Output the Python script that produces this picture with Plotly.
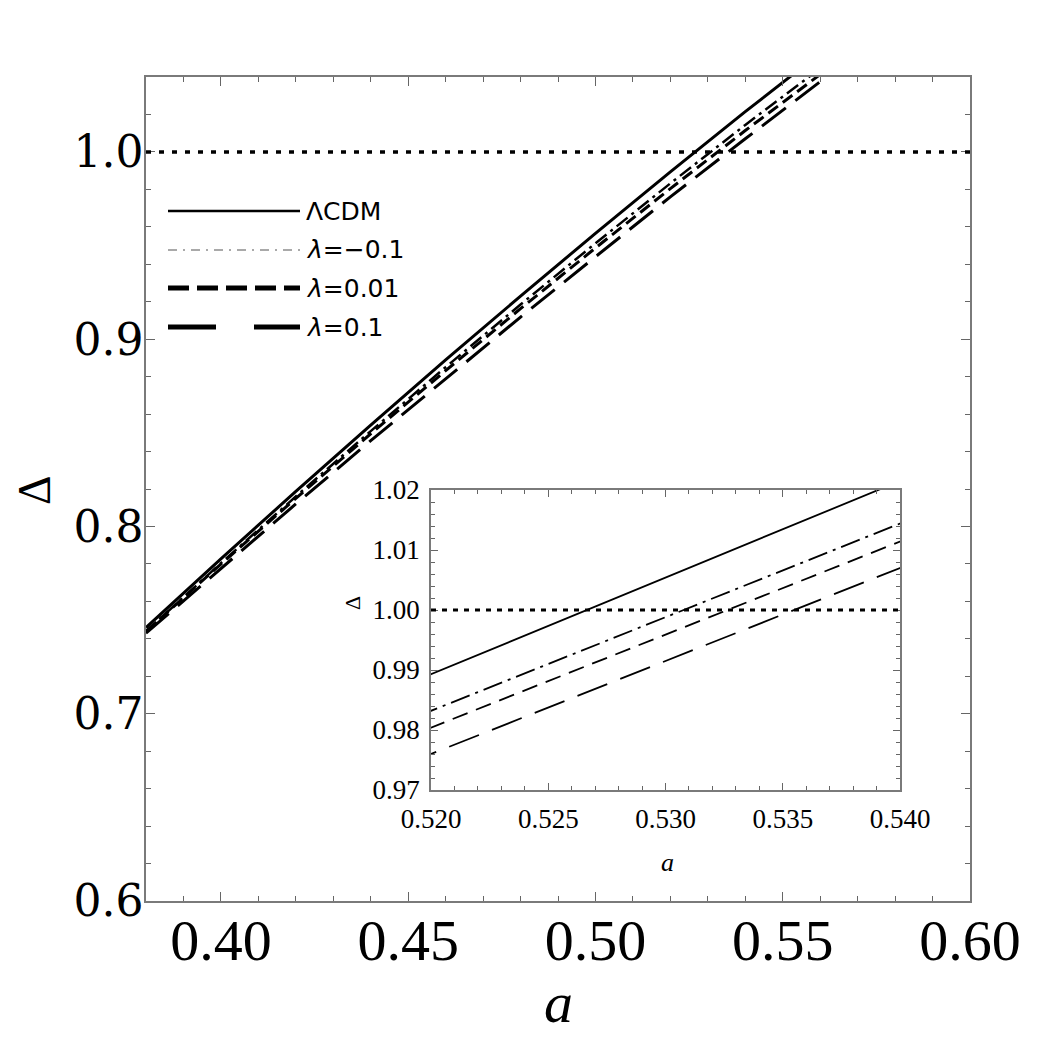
import plotly.graph_objects as go

# ---------------- data ----------------
a_vals = [0.38, 0.40, 0.42, 0.44, 0.46, 0.48, 0.50, 0.52, 0.54, 0.56, 0.58]
delta_lcdm = [0.746, 0.7827, 0.8187, 0.8541, 0.8889, 0.9230, 0.9565, 0.9893, 1.0215, 1.0530, 1.0839]
delta_lam_m01 = [0.744, 0.7804, 0.8160, 0.8509, 0.8851, 0.9185, 0.9512, 0.9832, 1.0144, 1.0449, 1.0747]
delta_lam_001 = [0.744, 0.7799, 0.8150, 0.8495, 0.8832, 0.9163, 0.9487, 0.9804, 1.0114, 1.0417, 1.0713]
delta_lam_01 = [0.743, 0.7777, 0.8120, 0.8458, 0.8790, 0.9118, 0.9440, 0.9760, 1.0070, 1.0377, 1.0680]
threshold = 1.0

series_names = ["ΛCDM", "<i>λ</i>=−0.1", "<i>λ</i>=0.01", "<i>λ</i>=0.1"]
series_vals = [delta_lcdm, delta_lam_m01, delta_lam_001, delta_lam_01]

main_range_x = [0.38, 0.60]
main_range_y = [0.60, 1.04]
inset_range_x = [0.52, 0.54]
inset_range_y = [0.97, 1.02]

# ---------------- styles ----------------
main_styles = [
    dict(width=3, dash="solid"),
    dict(width=2.5, dash="14px,5px,3px,5px"),
    dict(width=3, dash="12px,6px"),
    dict(width=3, dash="30px,12px"),
]
inset_styles = [
    dict(width=1.8, dash="solid"),
    dict(width=1.8, dash="20px,6px,3px,6px"),
    dict(width=1.8, dash="16px,9px"),
    dict(width=1.8, dash="32px,14px"),
]
legend_styles = [
    dict(width=2.5, dash="solid", color="black"),
    dict(width=1.2, dash="9px,6px,2px,6px", color="#555"),
    dict(width=5, dash="21px,8px", color="black"),
    dict(width=5, dash="48px,38px", color="black"),
]

fig = go.Figure()
for v, ms in zip(series_vals, main_styles):
    fig.add_trace(go.Scatter(x=a_vals, y=v, mode="lines", showlegend=False,
                             line=dict(color="black", **ms), xaxis="x", yaxis="y"))
for v, st in zip(series_vals, inset_styles):
    fig.add_trace(go.Scatter(x=a_vals, y=v, mode="lines", showlegend=False,
                             line=dict(color="black", **st), xaxis="x2", yaxis="y2"))

W, H = 1050, 1048
L, R, T, B = 146, 80, 77, 147
PW, PH = W - L - R, H - T - B


def px_x(p):
    return (p - L) / PW


def px_y(p):
    return (T + PH - p) / PH


frame = dict(showline=True, linecolor="#7a7a7a", linewidth=1.5, mirror="allticks",
             ticks="inside", tickcolor="#666", tickwidth=1.2, showgrid=False, zeroline=False)

fig.update_layout(
    width=W, height=H,
    margin=dict(l=L, r=R, t=T, b=B),
    paper_bgcolor="white", plot_bgcolor="white",
    xaxis=dict(domain=[0, 1], range=main_range_x, tick0=0.40, dtick=0.05, tickformat=".2f",
               ticklen=9, ticklabelstandoff=-12,
               tickfont=dict(family="Liberation Serif", size=58, color="black"),
               minor=dict(dtick=0.01, tick0=0.38, ticks="inside", ticklen=5, tickcolor="#666"),
               anchor="y", **frame),
    yaxis=dict(domain=[0, 1], range=main_range_y, tick0=0.6, dtick=0.1, tickformat=".1f",
               ticklen=9, ticklabelstandoff=-8,
               tickfont=dict(family="DejaVu Serif", size=44, color="black"),
               minor=dict(dtick=0.02, tick0=0.6, ticks="inside", ticklen=5, tickcolor="#666"),
               anchor="x", **frame),
    xaxis2=dict(domain=[px_x(431), px_x(900)], range=inset_range_x, tick0=0.52, dtick=0.005,
                tickformat=".3f", ticklen=7, ticklabelstandoff=4,
                tickfont=dict(family="Liberation Serif", size=27, color="black"),
                minor=dict(dtick=0.001, tick0=0.52, ticks="inside", ticklen=4, tickcolor="#666"),
                anchor="y2", **frame),
    yaxis2=dict(domain=[px_y(790), px_y(490)], range=inset_range_y, tick0=0.97, dtick=0.01,
                tickformat=".2f", ticklen=7, ticklabelstandoff=4,
                tickfont=dict(family="Liberation Serif", size=27, color="black"),
                minor=dict(dtick=0.002, tick0=0.97, ticks="inside", ticklen=4, tickcolor="#666"),
                anchor="x2", **frame),
)

shapes = [
    dict(type="line", xref="x domain", yref="y", x0=0, x1=1, y0=threshold, y1=threshold,
         line=dict(color="black", width=3.5, dash="5px,8px")),
    dict(type="line", xref="x2 domain", yref="y2", x0=0, x1=1, y0=threshold, y1=threshold,
         line=dict(color="black", width=3, dash="5px,6px")),
]
annotations = []
legend_rows = [211, 250, 288, 327]
for name, ls, row in zip(series_names, legend_styles, legend_rows):
    shapes.append(dict(type="line", xref="paper", yref="paper",
                       x0=px_x(168), x1=px_x(300), y0=px_y(row), y1=px_y(row), line=ls))
    annotations.append(dict(xref="paper", yref="paper", x=px_x(304), y=px_y(row), text=name,
                            showarrow=False, xanchor="left", yanchor="middle",
                            font=dict(family="DejaVu Sans", size=25, color="black")))

annotations += [
    dict(xref="paper", yref="paper", x=px_x(35), y=px_y(490), text="Δ", textangle=-90,
         showarrow=False, xanchor="center", yanchor="middle",
         font=dict(family="Liberation Serif", size=46, color="black")),
    dict(xref="paper", yref="paper", x=px_x(558), y=px_y(1002), text="<i>a</i>",
         showarrow=False, xanchor="center", yanchor="middle",
         font=dict(family="Liberation Serif", size=58, color="black")),
    dict(xref="paper", yref="paper", x=px_x(352), y=px_y(603), text="Δ", textangle=-90,
         showarrow=False, xanchor="center", yanchor="middle",
         font=dict(family="Liberation Serif", size=22, color="black")),
    dict(xref="paper", yref="paper", x=px_x(667), y=px_y(862), text="<i>a</i>",
         showarrow=False, xanchor="center", yanchor="middle",
         font=dict(family="Liberation Serif", size=26, color="black")),
]
fig.update_layout(shapes=shapes, annotations=annotations)

fig.write_html("out.html")
